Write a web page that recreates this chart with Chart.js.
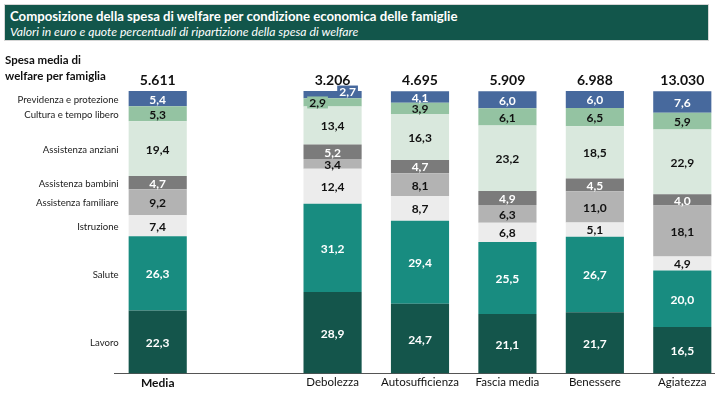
<!DOCTYPE html>
<html lang="it">
<head>
<meta charset="UTF-8">
<title>Composizione della spesa di welfare</title>
<script src="https://cdn.jsdelivr.net/npm/chart.js"></script>
<style>
body {
  margin: 0;
  width: 715px;
  height: 396px;
  overflow: hidden;
  background: #fff;
  font-family: 'Lato', sans-serif;
  position: relative;
}
.header {
  position: absolute;
  left: 4px;
  top: 4px;
  width: 705px;
  height: 37px;
  background: #12564b;
  border: 1px solid #d6d6d6;
  color: #fff;
  box-sizing: border-box;
  padding: 3px 0 0 5px;
}
.header .title {
  font-weight: 700;
  font-size: 13.2px;
  line-height: 16px;
}
.header .subtitle {
  font-style: italic;
  font-size: 12.2px;
  line-height: 16px;
}
.side-title {
  position: absolute;
  left: 5px;
  top: 52px;
  font-weight: 700;
  font-size: 11.5px;
  line-height: 16px;
  color: #111;
}
#chart-wrap {
  position: absolute;
  left: 0;
  top: 0;
  width: 730px;
  height: 396px;
}
</style>
</head>
<body>
<div id="chart-wrap"><canvas id="welfareChart" width="730" height="396"></canvas></div>
<div class="header">
  <div class="title">Composizione della spesa di welfare per condizione economica delle famiglie</div>
  <div class="subtitle">Valori in euro e quote percentuali di ripartizione della spesa di welfare</div>
</div>
<div class="side-title">Spesa media di<br>welfare per famiglia</div>

<script>
// categorie (la seconda e' vuota: spazio tra Media e le classi)
const categories = ['Media', '', 'Debolezza', 'Autosufficienza', 'Fascia media', 'Benessere', 'Agiatezza'];

// spesa media in euro
const totals = [5611, null, 3206, 4695, 5909, 6988, 13030];

// quote percentuali, dal basso verso l'alto
const lavoro      = [22.3, null, 28.9, 24.7, 21.1, 21.7, 16.5];
const salute      = [26.3, null, 31.2, 29.4, 25.5, 26.7, 20.0];
const istruzione  = [7.4, null, 12.4, 8.7, 6.8, 5.1, 4.9];
const familiare   = [9.2, null, 3.4, 8.1, 6.3, 11.0, 18.1];
const bambini     = [4.7, null, 5.2, 4.7, 4.9, 4.5, 4.0];
const anziani     = [19.4, null, 13.4, 16.3, 23.2, 18.5, 22.9];
const cultura     = [5.3, null, 2.9, 3.9, 6.1, 6.5, 5.9];
const previdenza  = [5.4, null, 2.7, 4.1, 6.0, 6.0, 7.6];

const series = [
  { label: 'Lavoro', data: lavoro, color: '#14554b', text: '#fff' },
  { label: 'Salute', data: salute, color: '#188c80', text: '#fff' },
  { label: 'Istruzione', data: istruzione, color: '#ececec', text: '#111' },
  { label: 'Assistenza familiare', data: familiare, color: '#b3b3b3', text: '#111' },
  { label: 'Assistenza bambini', data: bambini, color: '#7b7b7b', text: '#fff' },
  { label: 'Assistenza anziani', data: anziani, color: '#d9e8dd', text: '#111' },
  { label: 'Cultura e tempo libero', data: cultura, color: '#94c3a2', text: '#111' },
  { label: 'Previdenza e protezione', data: previdenza, color: '#47699d', text: '#fff' }
];

function fmtPct(v) {
  return v.toFixed(1).replace('.', ',');
}
function fmtEuro(v) {
  return String(v).replace(/\B(?=(\d{3})+(?!\d))/g, '.');
}

// etichette dentro le barre, nomi a sinistra di Media, totali sopra
const labelsPlugin = {
  id: 'barLabels',
  afterDatasetsDraw(chart) {
    const ctx = chart.ctx;
    const last = chart.data.datasets.length - 1;
    ctx.save();
    ctx.textBaseline = 'middle';
    chart.data.datasets.forEach((ds, di) => {
      const meta = chart.getDatasetMeta(di);
      meta.data.forEach((bar, i) => {
        const v = ds.data[i];
        if (v == null) return;
        let x = bar.x;
        let y = (bar.y + bar.base) / 2;
        const txt = fmtPct(v);
        ctx.font = 'bold 12px Lato';
        ctx.textAlign = 'center';
        if (v < 3) {
          // segmenti troppo sottili: etichetta spostata di lato, con riquadro
          if (di === last) { x += 15; y -= 3; } else { x -= 15; }
          const w = ctx.measureText(txt).width + 4;
          ctx.fillStyle = series[di].color;
          ctx.fillRect(x - w / 2, y - 6, w, 12);
        }
        ctx.fillStyle = series[di].text;
        ctx.fillText(txt, x, y + 1);
        if (i === 0) {
          ctx.font = '9.6px Lato';
          ctx.textAlign = 'right';
          ctx.fillStyle = '#222';
          ctx.fillText(ds.label, bar.x - bar.width / 2 - 10, y + 1);
        }
      });
    });
    const topMeta = chart.getDatasetMeta(last);
    topMeta.data.forEach((bar, i) => {
      if (totals[i] == null) return;
      ctx.font = 'bold 14px Lato';
      ctx.textAlign = 'center';
      ctx.fillStyle = '#111';
      ctx.fillText(fmtEuro(totals[i]), bar.x, chart.chartArea.top - 11);
    });
    ctx.restore();
  }
};

function createChart() {
  const c = document.getElementById('welfareChart').getContext('2d');
  new Chart(c, {
    type: 'bar',
    data: {
      labels: categories,
      datasets: series.map(s => ({
        label: s.label,
        data: s.data,
        backgroundColor: s.color,
        borderWidth: 0,
        barPercentage: 0.665,
        categoryPercentage: 1
      }))
    },
    options: {
      responsive: false,
      animation: false,
      layout: { padding: { top: 91, left: 114, right: 4, bottom: 4 } },
      plugins: {
        legend: { display: false },
        title: { display: false },
        tooltip: { enabled: false }
      },
      scales: {
        x: {
          stacked: true,
          grid: { display: false, drawTicks: false },
          border: { display: true, color: '#555', width: 1 },
          ticks: {
            color: '#111',
            padding: 2,
            maxRotation: 0,
            autoSkip: false,
            font: ctx => ctx.index === 0 ? { family: 'Lato', size: 12, weight: 'bold' } : { family: 'Lato', size: 11.5 }
          }
        },
        y: {
          stacked: true,
          display: false,
          min: 0,
          max: 100
        }
      }
    },
    plugins: [labelsPlugin]
  });
}

if (document.readyState === 'loading') {
  document.addEventListener('DOMContentLoaded', createChart);
} else {
  createChart();
}
</script>
</body>
</html>
